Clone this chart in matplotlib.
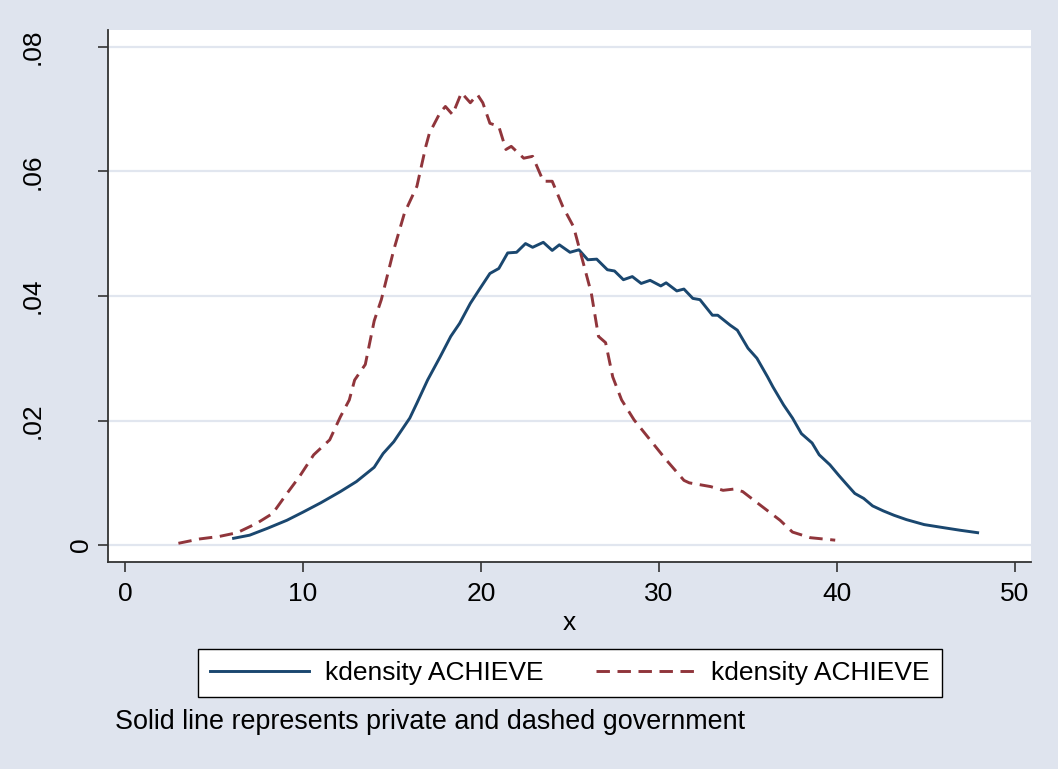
import numpy as np
import matplotlib.pyplot as plt
from matplotlib.transforms import ScaledTranslation

# kdensity of ACHIEVE, private schools (solid)
priv_x = [6.1, 7.0, 8.0, 9.1, 10.0, 11.0, 12.1, 13.0, 14.0, 14.5, 15.1, 16.0, 16.4,
          17.0, 17.7, 18.3, 18.8, 19.4, 19.9, 20.5, 21.0, 21.5, 22.0, 22.5, 22.9,
          23.5, 24.0, 24.4, 25.0, 25.5, 26.0, 26.5, 27.1, 27.5, 28.0, 28.5, 29.0,
          29.5, 30.1, 30.4, 31.0, 31.4, 31.9, 32.3, 33.0, 33.3, 34.0, 34.4, 35.0,
          35.5, 36.1, 36.4, 37.0, 37.5, 38.0, 38.6, 39.0, 39.6, 40.1, 40.5, 41.0,
          41.5, 42.0, 42.6, 43.2, 43.9, 44.9, 46.0, 46.9, 47.9]
priv_y = [.0011, .0016, .0027, .0040, .0053, .0068, .0086, .0102, .0125, .0147, .0166,
          .0204, .0228, .0265, .0302, .0335, .0356, .0388, .0410, .0436, .0444, .0469,
          .0470, .0484, .0478, .0486, .0473, .0482, .0470, .0474, .0458, .0459, .0442,
          .0440, .0426, .0431, .0420, .0425, .0416, .0421, .0408, .0411, .0396, .0394,
          .0369, .0369, .0353, .0345, .0316, .0300, .0270, .0254, .0225, .0204, .0179,
          .0164, .0145, .0129, .0112, .0099, .0083, .0075, .0063, .0055, .0048, .0041,
          .0033, .0028, .0024, .0020]

# kdensity of ACHIEVE, government schools (dashed)
gov_x = [3.0, 4.2, 5.3, 6.3, 7.4, 8.3, 9.1, 9.8, 10.6, 11.5, 12.1, 12.6, 12.9, 13.5,
         14.0, 14.4, 15.1, 15.7, 16.4, 16.9, 17.1, 17.7, 18.0, 18.4, 18.9, 19.4, 19.8,
         20.1, 20.5, 21.0, 21.4, 21.7, 22.4, 22.9, 23.5, 24.0, 24.6, 25.2, 25.8, 26.2,
         26.6, 27.0, 27.4, 27.9, 28.6, 29.5, 30.4, 31.4, 31.7, 32.9, 33.6, 34.2, 34.7,
         35.7, 36.8, 37.5, 38.5, 39.9]
gov_y = [.0003, .0010, .0014, .0020, .0035, .0051, .0083, .0110, .0145, .0169, .0206,
         .0233, .0265, .0290, .0360, .0394, .0474, .0533, .0576, .0640, .0661, .0694,
         .0704, .0691, .0726, .0710, .0723, .0710, .0677, .0672, .0635, .0640, .0621,
         .0624, .0584, .0584, .0543, .0511, .0447, .0404, .0335, .0325, .0270, .0233,
         .0201, .0169, .0137, .0104, .0100, .0094, .0088, .0090, .0086, .0064, .0040,
         .0021, .0012, .0008]

x_ticks = [0, 10, 20, 30, 40, 50]
y_ticks = [0, 0.02, 0.04, 0.06, 0.08]
y_labels = ["0", ".02", ".04", ".06", ".08"]

bg = "#dfe4ee"
navy = "#1a476f"
maroon = "#90353b"
fs = 19

plt.rcParams["font.family"] = ["Liberation Sans", "DejaVu Sans"]

fig = plt.figure(figsize=(10.58, 7.69), dpi=100)
fig.patch.set_facecolor(bg)
ax = fig.add_axes([0.102, 0.2692, 0.8725, 0.692])
ax.set_facecolor("white")

for yv in y_ticks:
    ax.axhline(yv, color="#e1e6ef", lw=1.6, zorder=1)

ax.plot(priv_x, priv_y, color=navy, lw=2.1, label="kdensity ACHIEVE", zorder=3)
ax.plot(gov_x, gov_y, color=maroon, lw=2.1, dashes=(4.6, 2.6),
        label="kdensity ACHIEVE", zorder=3)

ax.set_xlim(-0.96, 50.9)
ax.set_ylim(-0.0027, 0.0827)
ax.set_xticks(x_ticks)
ax.set_yticks(y_ticks)
ax.set_yticklabels(y_labels, rotation=90, va="center")
ax.tick_params(axis="both", labelsize=fs, length=7.5, width=1.2, color="#333333")
ax.tick_params(axis="x", pad=7)
ax.tick_params(axis="y", pad=38)
ax.set_xlabel("x", fontsize=fs, labelpad=3.5)

# Stata puts the lone "0" label much closer to the axis
zero_lab = ax.get_yticklabels()[0]
zero_lab.set_transform(zero_lab.get_transform() + ScaledTranslation(0.48, 0, fig.dpi_scale_trans))

for side in ["top", "right"]:
    ax.spines[side].set_visible(False)
for side in ["left", "bottom"]:
    ax.spines[side].set_linewidth(1.3)
    ax.spines[side].set_color("#333333")

leg = fig.legend(loc="center", bbox_to_anchor=(570 / 1058, 1 - 673 / 769), ncol=2,
                 fontsize=fs, handlelength=3.75, handletextpad=0.6, columnspacing=2.0,
                 frameon=True, fancybox=False, borderpad=0.45, framealpha=1)
leg.get_frame().set_edgecolor("black")
leg.get_frame().set_linewidth(1.0)

fig.text(115 / 1058, 1 - 722 / 769, "Solid line represents private and dashed government",
         fontsize=19.4, ha="left", va="center")

fig.savefig("out.png", dpi=100, facecolor=bg)
